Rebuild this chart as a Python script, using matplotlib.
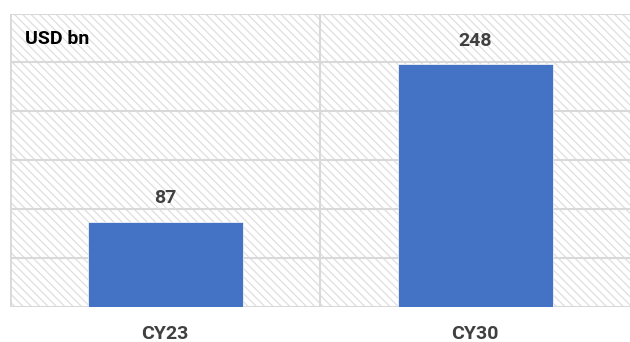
import matplotlib
matplotlib.use("Agg")
import matplotlib.pyplot as plt
from matplotlib.patches import Rectangle

categories = ["CY23", "CY30"]
values = [87, 248]
unit_label = "USD bn"

plt.rcParams['font.family'] = ['Liberation Sans Narrow', 'Roboto', 'DejaVu Sans']
plt.rcParams['hatch.linewidth'] = 0.9
plt.rcParams['hatch.color'] = '#dedede'

fig = plt.figure(figsize=(6.3, 3.42), dpi=100)
ax = fig.add_axes([10 / 630, 1 - 307 / 342, 1 - 10 / 630, 293.5 / 342])

x = list(range(len(categories)))
ax.set_xlim(-0.5, len(categories) - 0.5)
ax.set_ylim(0, 300)

# hatched background
bg = Rectangle((0, 0), 1, 1, transform=ax.transAxes, facecolor='white',
               edgecolor='#dedede', hatch='\\\\\\\\', linewidth=0, zorder=0)
ax.add_patch(bg)

# grid
for yv in range(0, 301, 50):
    ax.axhline(yv, color='#d9d9d9', linewidth=1.5, zorder=1)
ax.axvline(0.5, color='#d9d9d9', linewidth=1.5, zorder=1)
ax.axvline(-0.5, color='#d9d9d9', linewidth=2, zorder=1)

bars = ax.bar(x, values, width=0.5, color='#4472c4', edgecolor='white',
              linewidth=0.5, zorder=2)
for xi, v in zip(x, values):
    ax.annotate(str(v), (xi, v), xytext=(0, 17), textcoords='offset points',
                ha='center', va='center', fontsize=14, fontweight='bold',
                color='#404040')

ax.text(15 / 620, 1 - 26 / 293.5, unit_label, transform=ax.transAxes,
        ha='left', va='center', fontsize=14, fontweight='bold', color='black')

for s in ax.spines.values():
    s.set_visible(False)
ax.set_yticks([])
ax.set_xticks(x)
ax.set_xticklabels(categories, fontsize=14, fontweight='bold', color='#404040')
ax.tick_params(axis='x', length=0, pad=13)

fig.savefig("out.png", dpi=100)
